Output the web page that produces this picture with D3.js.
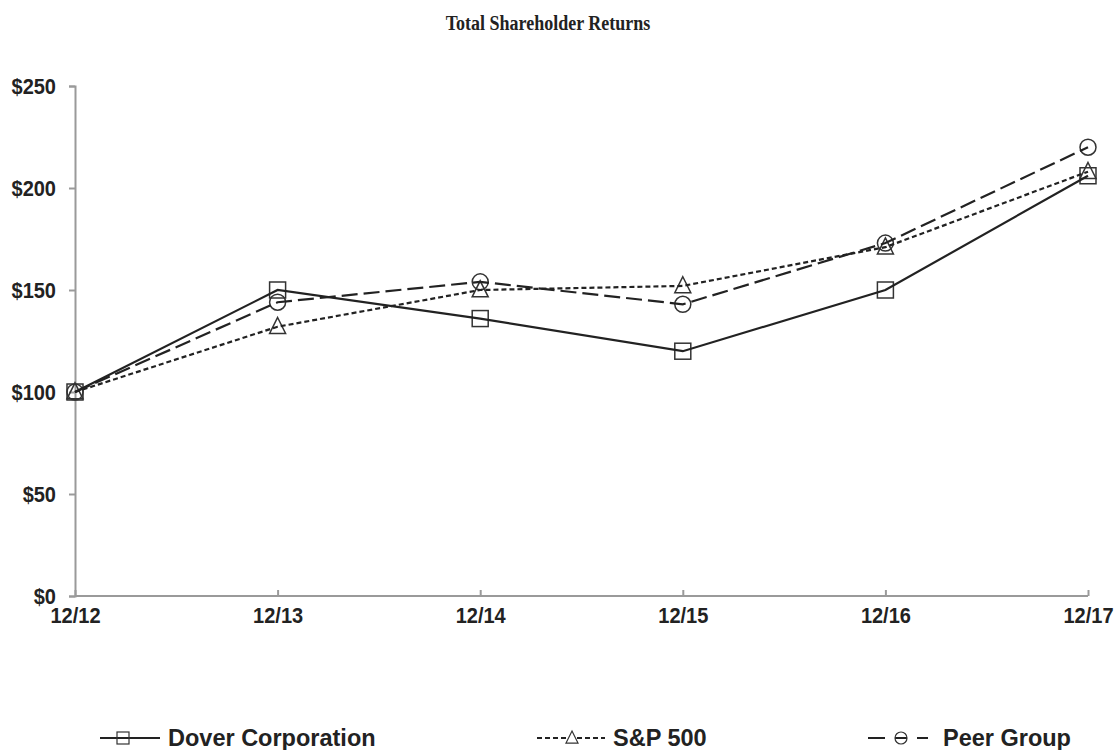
<!DOCTYPE html>
<html>
<head>
<meta charset="utf-8">
<script src="https://cdn.jsdelivr.net/npm/d3@7"></script>
<style>
    body { margin: 0; background: #fff; }
    svg text { font-family: "Liberation Sans", Arial, sans-serif; font-weight: bold; fill: #222; }
    .title { font-family: "Liberation Serif", "Times New Roman", serif; font-size: 18px; }
    .axis path, .axis line { stroke: #9a9a9a; stroke-width: 2px; }
    .axis text { font-size: 20px; }
</style>
</head>
<body>
<script>
// chart data
var years = ['12/12', '12/13', '12/14', '12/15', '12/16', '12/17'];
var dover = [100, 150, 136, 120, 150, 206];
var sp500 = [100, 132, 150, 152, 171, 208];
var peers = [100, 144, 154, 143, 173, 220];
var yTicks = [0, 50, 100, 150, 200, 250];

var series = [
    { name: 'Dover Corporation', values: dover, dash: null, marker: 'square' },
    { name: 'S&P 500', values: sp500, dash: '5,3', marker: 'triangle' },
    { name: 'Peer Group', values: peers, dash: '16,6', marker: 'circle' }
];

var width = 1115, height = 750;

var svg = d3.select('body').append('svg')
    .attr('width', width)
    .attr('height', height);

var x = d3.scalePoint()
    .domain(years)
    .range([75, 1088]);

var y = d3.scaleLinear()
    .domain([0, 250])
    .range([596, 86]);

// the reference text is a bit taller than it is wide
svg.append('text')
    .attr('class', 'title')
    .attr('text-anchor', 'middle')
    .attr('transform', 'translate(548,30) scale(1,1.15)')
    .text('Total Shareholder Returns');

// y axis
var yAxis = svg.append('g')
    .attr('class', 'axis')
    .attr('transform', 'translate(75,0)')
    .call(d3.axisLeft(y).tickValues(yTicks).tickSize(6)
        .tickFormat(function(d) { return '$' + d; }));
yAxis.selectAll('text')
    .attr('x', 0)
    .attr('dy', '0.35em')
    .attr('transform', 'translate(-19,0) scale(1,1.1)');

// x axis, ticks point up into the plot
var xAxis = svg.append('g')
    .attr('class', 'axis')
    .attr('transform', 'translate(0,596)')
    .call(d3.axisBottom(x).tickSizeInner(-6).tickSizeOuter(0));
xAxis.selectAll('text')
    .attr('y', 0)
    .attr('dy', 0)
    .attr('transform', 'translate(0,27) scale(1,1.1)');
xAxis.select('.domain').attr('d', 'M75,0H1088');

function drawMarker(g, kind, cx, cy, r) {
    if (kind === 'square') {
        g.append('rect')
            .attr('x', cx - r).attr('y', cy - r)
            .attr('width', r * 2).attr('height', r * 2);
    } else if (kind === 'triangle') {
        g.append('path')
            .attr('d', 'M' + cx + ',' + (cy - r * 1.15) + 'L' + (cx + r) + ',' + (cy + r * 0.85) +
                'L' + (cx - r) + ',' + (cy + r * 0.85) + 'Z');
    } else {
        g.append('circle').attr('cx', cx).attr('cy', cy).attr('r', r);
    }
}

var line = d3.line()
    .x(function(d, i) { return x(years[i]); })
    .y(function(d) { return y(d); });

// markers first, lines run through them
series.forEach(function(s) {
    var g = svg.append('g')
        .attr('fill', 'none')
        .attr('stroke', '#333')
        .attr('stroke-width', 1.5);
    s.values.forEach(function(v, i) {
        drawMarker(g, s.marker, x(years[i]), y(v), 8);
    });
});

series.forEach(function(s) {
    svg.append('path')
        .datum(s.values)
        .attr('fill', 'none')
        .attr('stroke', '#222')
        .attr('stroke-width', 2.2)
        .attr('stroke-dasharray', s.dash)
        .attr('d', line);
});

// legend
var legendPos = [
    { x0: 100, x1: 160, mx: 123, tx: 168, dash: null },
    { x0: 537, x1: 605, mx: 572, tx: 613, dash: '5,3' },
    { x0: 868, x1: 928, mx: 901, tx: 943, dash: '17,10,12,10,12' }
];
var ly = 738;
series.forEach(function(s, i) {
    var p = legendPos[i];
    var g = svg.append('g');
    g.append('line')
        .attr('x1', p.x0).attr('x2', p.x1)
        .attr('y1', ly).attr('y2', ly)
        .attr('stroke', '#222')
        .attr('stroke-width', 2)
        .attr('stroke-dasharray', p.dash);
    var m = g.append('g')
        .attr('fill', s.marker === 'triangle' ? '#fff' : 'none')
        .attr('stroke', '#333')
        .attr('stroke-width', 1.2);
    drawMarker(m, s.marker, p.mx, ly, 6);
    g.append('text')
        .attr('x', p.tx)
        .attr('y', ly)
        .attr('dy', '0.35em')
        .style('font-size', '23.5px')
        .text(s.name);
});
</script>
</body>
</html>
